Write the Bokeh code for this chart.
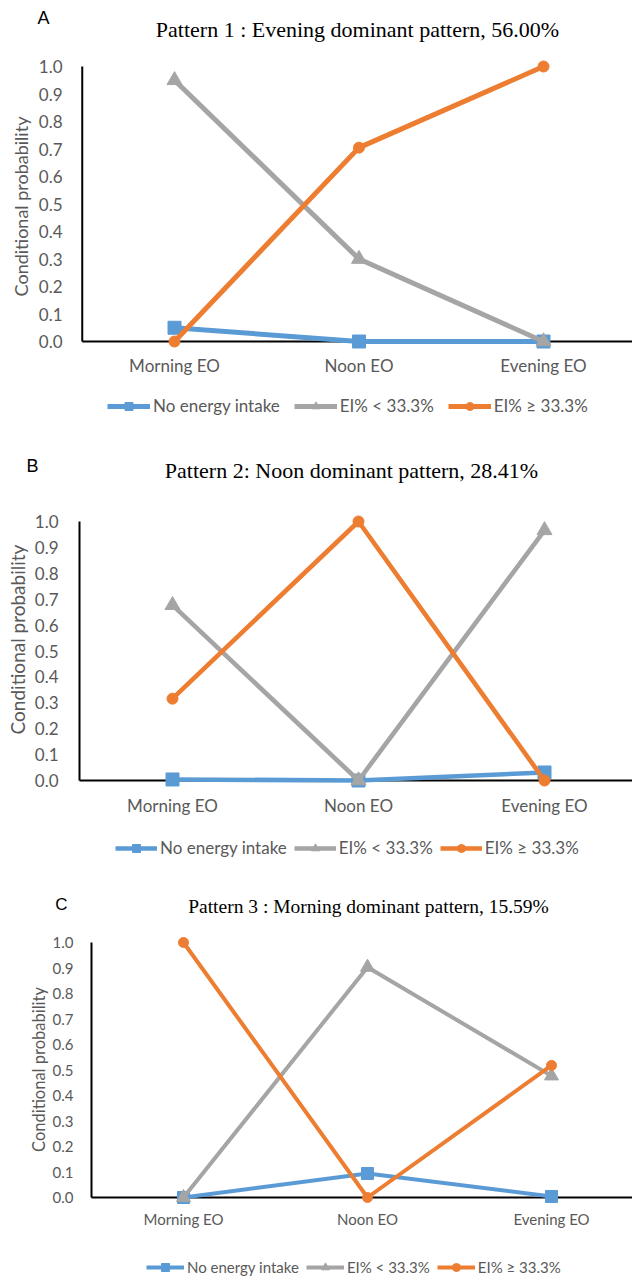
import math
from bokeh.plotting import figure
from bokeh.models import Range1d, Legend, LegendItem
from bokeh.core.properties import value
from bokeh.layouts import column
from bokeh.embed import file_html
from bokeh.resources import INLINE

# ---------------- data ----------------
categories = ["Morning EO", "Noon EO", "Evening EO"]
series_names = ["No energy intake", "EI% < 33.3%", "EI% \u2265 33.3%"]
series_colors = ["#5B9BD5", "#A5A5A5", "#ED7D31"]
series_markers = ["square", "triangle", "circle"]
y_ticks = [0.0, 0.1, 0.2, 0.3, 0.4, 0.5, 0.6, 0.7, 0.8, 0.9, 1.0]
y_tick_labels = ["0.0", "0.1", "0.2", "0.3", "0.4", "0.5", "0.6", "0.7",
                 "0.8", "0.9", "1.0"]
y_title = "Conditional probability"

pattern1_title = "Pattern 1 : Evening dominant pattern, 56.00%"
pattern1_no_intake = [0.05, 0.0, 0.0]
pattern1_below = [0.95, 0.30, 0.0]
pattern1_above = [0.0, 0.705, 1.0]

pattern2_title = "Pattern 2: Noon dominant pattern, 28.41%"
pattern2_no_intake = [0.004, 0.0, 0.031]
pattern2_below = [0.677, 0.0, 0.966]
pattern2_above = [0.316, 1.0, 0.0]

pattern3_title = "Pattern 3 : Morning dominant pattern, 15.59%"
pattern3_no_intake = [0.0, 0.094, 0.004]
pattern3_below = [0.0, 0.903, 0.477]
pattern3_above = [1.0, 0.0, 0.518]

W = 632
SANS = "Lato"
SERIF = "Liberation Serif"
GREY_TXT = "#595959"


def make_panel(letter, title, values, cfg):
    top = cfg["top"]
    H = cfg["height"]
    ppu = cfg["y0"] - cfg["y1"]          # pixels per unit of probability
    sp = cfg["spacing"]                  # pixels per category

    def dx(px):   # page x -> data x
        return (px - cfg["cat0"]) / sp

    def dy(py):   # page y -> data y
        return (cfg["y0"] - py) / ppu

    p = figure(width=W, height=H, output_backend="svg",
               toolbar_location=None, tools="",
               x_range=Range1d(dx(0), dx(W)), y_range=Range1d(dy(top + H), dy(top)),
               x_axis_location=None, y_axis_location=None,
               min_border=0, min_border_left=0, min_border_right=0,
               min_border_top=0, min_border_bottom=0)
    p.outline_line_color = None
    p.xgrid.visible = False
    p.ygrid.visible = False
    p.background_fill_color = "white"
    p.border_fill_color = "white"

    n = len(categories)
    xs = list(range(n))
    x_left = -0.5                          # category-axis boundary
    x_right = dx(W)

    # axis lines
    p.segment(x0=[x_left, x_left], y0=[0.0, 0.0], x1=[x_left, x_right],
              y1=[y_ticks[-1], 0.0], line_color="black", line_width=2)

    # tick labels
    p.text(x=[dx(cfg["ytick_right"])] * len(y_ticks), y=y_ticks,
           text=y_tick_labels, text_align="right", text_baseline="middle",
           text_font=value(SANS), text_font_size=value(cfg["fs_y"]),
           text_color=GREY_TXT)
    p.text(x=xs, y=[dy(cfg["xlab_y"])] * n, text=categories,
           text_align="center", text_baseline="middle",
           text_font=value(SANS), text_font_size=value(cfg["fs_x"]),
           text_color=GREY_TXT)
    # axis title, panel letter, chart title
    p.text(x=[dx(cfg["ylab_x"])], y=[dy(cfg["ylab_y"])], text=[y_title],
           angle=math.pi / 2, text_align="center", text_baseline="middle",
           text_font=value(SANS), text_font_size=value(cfg["fs_lab"]),
           text_color=GREY_TXT)
    p.text(x=[dx(cfg["letter_x"])], y=[dy(cfg["letter_y"])], text=[letter],
           text_align="center", text_baseline="middle",
           text_font=value("Liberation Sans"),
           text_font_size=value(cfg["fs_letter"]), text_color="black")
    p.text(x=[dx(cfg["title_x"])], y=[dy(cfg["title_y"])], text=[title],
           text_align="center", text_baseline="middle",
           text_font=value(SERIF), text_font_size=value(cfg["fs_title"]),
           text_color="black")

    # series
    items = []
    for name, col, mk, ys in zip(series_names, series_colors, series_markers,
                                 values):
        r1 = p.line(xs, ys, line_color=col, line_width=cfg["lw"])
        r2 = p.scatter(xs, ys, marker=mk, size=cfg["msize"][mk],
                       fill_color=col, line_color=col)
        items.append(LegendItem(label=name, renderers=[r1, r2]))

    leg_h = 20
    lx = cfg["leg_left"]
    ly = (top + H) - (cfg["leg_y"] + leg_h / 2)
    leg = Legend(items=items, orientation="horizontal", location=(lx, ly),
                 glyph_width=cfg["gw"], glyph_height=leg_h, label_height=leg_h,
                 spacing=cfg["leg_sp"], label_standoff=cfg["leg_st"],
                 padding=0, margin=0,
                 border_line_color=None, background_fill_alpha=0,
                 label_text_font=SANS, label_text_font_size=cfg["fs_leg"],
                 label_text_color=GREY_TXT)
    p.add_layout(leg, "center")
    return p


cfgA = dict(top=0, height=430, y1=66, y0=341, cat0=174, spacing=184.5,
            ytick_right=62, xlab_y=365,
            fs_x="17px", fs_y="17px", fs_lab="18px", fs_leg="17px",
            fs_title="22px", fs_letter="18px",
            lw=5, msize={"square": 13, "triangle": 15, "circle": 11},
            gw=43, leg_sp=14, leg_st=3, leg_left=107, leg_y=406,
            ylab_x=20, ylab_y=206,
            letter_x=43, letter_y=17, title_x=357, title_y=29)
cfgB = dict(top=430, height=431, y1=521, y0=780, cat0=172, spacing=186,
            ytick_right=58, xlab_y=805,
            fs_x="17px", fs_y="17px", fs_lab="19px", fs_leg="17px",
            fs_title="22px", fs_letter="18px",
            lw=4.6, msize={"square": 13, "triangle": 15, "circle": 11},
            gw=42, leg_sp=7, leg_st=3, leg_left=115, leg_y=848,
            ylab_x=17, ylab_y=639,
            letter_x=32, letter_y=465, title_x=351, title_y=470)
cfgC = dict(top=861, height=417, y1=942, y0=1197, cat0=183, spacing=184,
            ytick_right=73, xlab_y=1218,
            fs_x="15px", fs_y="15px", fs_lab="16.5px", fs_leg="15px",
            fs_title="19.5px", fs_letter="17px",
            lw=4, msize={"square": 12, "triangle": 14, "circle": 10},
            gw=38, leg_sp=7, leg_st=3, leg_left=146, leg_y=1267,
            ylab_x=38, ylab_y=1069,
            letter_x=61, letter_y=904, title_x=368, title_y=906)

pA = make_panel("A", pattern1_title,
                [pattern1_no_intake, pattern1_below, pattern1_above], cfgA)
pB = make_panel("B", pattern2_title,
                [pattern2_no_intake, pattern2_below, pattern2_above], cfgB)
pC = make_panel("C", pattern3_title,
                [pattern3_no_intake, pattern3_below, pattern3_above], cfgC)

layout = column(pA, pB, pC, spacing=0)
open("out.html", "w").write(file_html(layout, INLINE))
